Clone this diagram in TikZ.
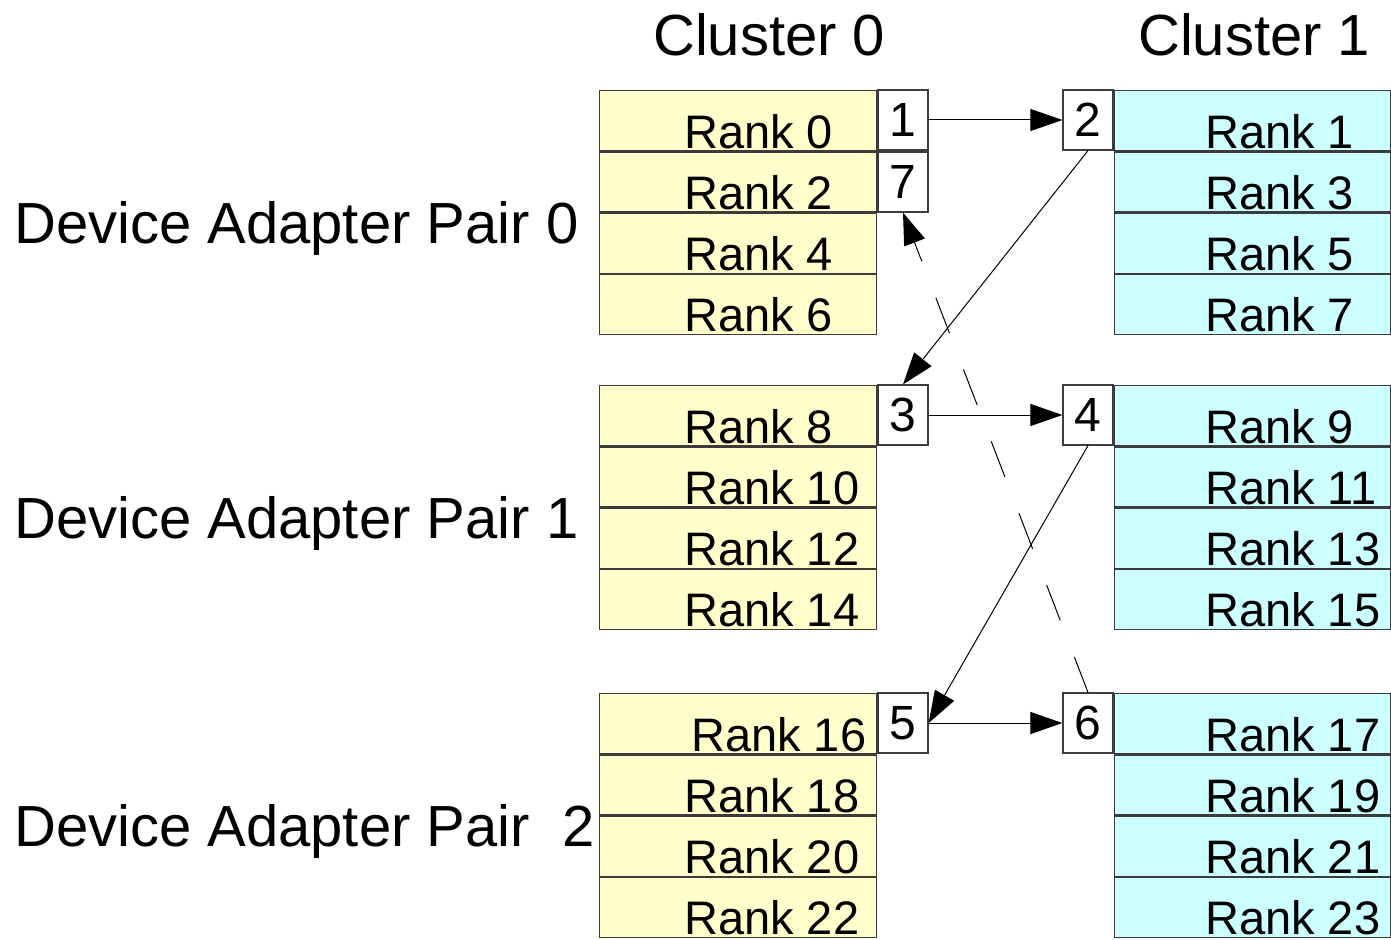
\documentclass[tikz,border=0pt]{standalone}
\usepackage{fontspec}
\setmainfont{Liberation Sans}
\usetikzlibrary{arrows.meta}
\definecolor{rankyellow}{RGB}{255,255,204}
\definecolor{rankcyan}{RGB}{204,255,255}
\definecolor{boxline}{RGB}{60,60,60}
\tikzset{
  rankbox/.style={draw=boxline, line width=1.4pt, minimum width=277pt, minimum height=60pt, inner sep=0pt, anchor=north west},
  ranktext/.style={anchor=base west, inner sep=0pt, text depth=0pt, font=\fontsize{47}{50}\selectfont},
  numbox/.style={draw=boxline, line width=1.2pt, fill=white, minimum width=50pt, minimum height=60pt, inner sep=0pt, font=\fontsize{48}{50}\selectfont},
  headtext/.style={anchor=base west, inner sep=0pt, font=\fontsize{58}{60}\selectfont},
  link/.style={line width=1pt, -{Triangle[length=32pt,width=22pt]}},
  backlink/.style={link, dash pattern=on 38pt off 39pt}
}
\begin{document}
\begin{tikzpicture}[x=1pt, y=-1pt]
\useasboundingbox (0,0) rectangle (1391,939);

% column headings
\node[headtext] (h0) at (653,56) {Cluster 0};
\node[headtext] (h1) at (1138,56) {Cluster 1};

% row headings
\node[headtext] (p0) at (14,243) {Device Adapter Pair 0};
\node[headtext] (p1) at (14,538) {Device Adapter Pair 1};
\node[headtext] (p2) at (14,846) {Device Adapter Pair\ \ 2};

% rank boxes, four per pair and cluster
\foreach \g/\top in {0/90, 1/385, 2/693} {
  \foreach \k in {0,1,2,3} {
    \pgfmathsetmacro\rtop{\top+61.3*\k}
    \pgfmathsetmacro\rbase{\rtop+58}
    \pgfmathtruncatemacro\ra{8*\g+2*\k}
    \pgfmathtruncatemacro\rb{8*\g+2*\k+1}
    \node[rankbox, fill=rankyellow] (a\ra) at (599,\rtop) {};
    \node[rankbox, fill=rankcyan, minimum width=276pt] (b\rb) at (1114,\rtop) {};
    \ifnum\ra=16
      \node[ranktext] (ta\ra) at (691,\rbase) {Rank \ra};
    \else
      \node[ranktext] (ta\ra) at (684,\rbase) {Rank \ra};
    \fi
    \node[ranktext] (tb\rb) at (1205,\rbase) {Rank \rb};
  }
}

% numbered steps
\node[numbox] (n1) at (903,120) {1};
\node[numbox] (n7) at (903,182) {7};
\node[numbox] (n2) at (1088,120) {2};
\node[numbox] (n3) at (903,415) {3};
\node[numbox] (n4) at (1088,415) {4};
\node[numbox] (n5) at (903,723) {5};
\node[numbox] (n6) at (1088,723) {6};

% message path
\draw[link] (n1.east) -- (n2.west);
\draw[link] (n2.south) -- (n3.north);
\draw[link] (n3.east) -- (n4.west);
\draw[link] (n4.south) -- (n5.east);
\draw[link] (n5.east) -- (n6.west);
\draw[backlink] (n6.north) -- (n7.south);
\end{tikzpicture}
\end{document}
